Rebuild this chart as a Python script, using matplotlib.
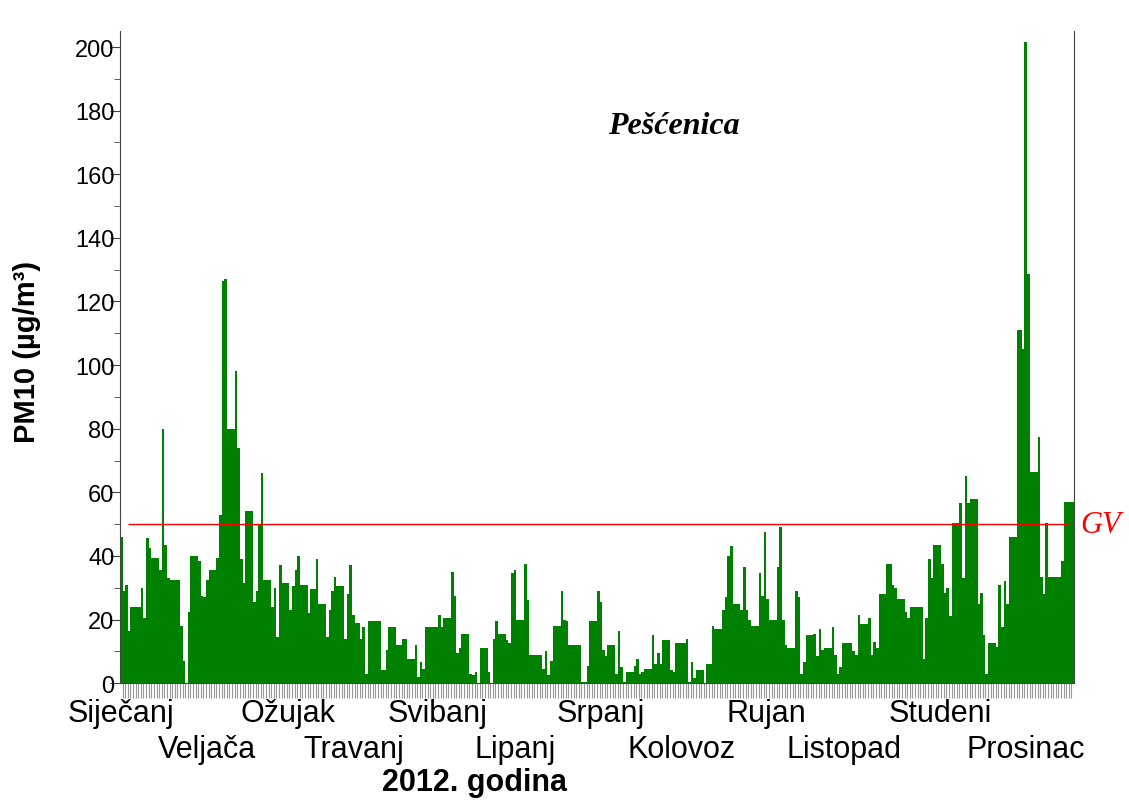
import numpy as np
import matplotlib
matplotlib.use("Agg")
import matplotlib.pyplot as plt
from matplotlib.ticker import MultipleLocator

plt.rcParams['font.family'] = ['Liberation Sans', 'DejaVu Sans']

# daily PM10 values, 2012
jan = [46, 29, 31, 16.5, 24, 24, 24, 24, 30, 20.5, 45.5, 42.5, 39.5, 39.5, 39.5, 35.5,
       80, 43.5, 33, 32.5, 32.5, 32.5, 32.5, 18, 7, 0, 22.5, 40, 40, 40, 38.5]
feb = [27.5, 27, 32.5, 35.5, 35.5, 35.5, 39.5, 53, 126.5, 127, 80, 80, 80, 98, 74, 39,
       31.5, 54, 54, 54, 25.5, 29, 50, 66, 32.5, 32.5, 32.5, 24, 30]
mar = [14.5, 37, 31.5, 31.5, 31.5, 23, 30.5, 35.5, 40, 31, 31, 31, 22, 29.5, 29.5, 39,
       25, 25, 25, 14.5, 23, 29, 33.5, 30.5, 30.5, 30.5, 14, 28, 37, 21.5, 19]
apr = [19, 14, 17.5, 3, 19.5, 19.5, 19.5, 19.5, 19.5, 4, 4, 10.5, 17.5, 17.5, 17.5, 12,
       12, 14, 14, 7.5, 7.5, 7.5, 12, 2, 6.5, 4.5, 17.5, 17.5, 17.5, 17.5]
may = [17.5, 21.5, 17.5, 20.5, 20.5, 20.5, 35, 27.5, 9.5, 11, 15.5, 15.5, 15.5, 3, 2.5,
       3.5, 0, 11, 11, 11, 3.5, 0, 14, 19.5, 15.5, 15.5, 15.5, 13.5, 12.5, 34.5, 35.5]
jun = [20, 20, 20, 37.5, 26, 9, 9, 9, 9, 9, 4.5, 10, 2.5, 7, 18, 18, 18, 29, 20, 19.5,
       12, 12, 12, 12, 12, 0.5, 0.5, 5.5, 19.5, 19.5]
jul = [19.5, 29, 25.5, 10.5, 8.5, 12, 12, 12, 3, 16.5, 5, 0.5, 3.5, 3.5, 3.5, 5.5, 7.5,
       3, 3.5, 4.5, 4.5, 4.5, 15, 6, 9.5, 6, 13.5, 13.5, 13.5, 4, 3.5]
aug = [12.5, 12.5, 12.5, 12.5, 14, 0.5, 6.5, 1.5, 4, 4, 4, 0, 6, 6, 18, 17, 17, 17, 23,
       27, 40, 43, 25, 25, 25, 23, 36.5, 23, 20, 18, 18]
sep = [18, 34.5, 27.5, 47.5, 26.5, 20, 20, 20, 36.5, 49, 20, 12, 11, 11, 11, 29, 27, 3,
       6.5, 15, 15, 15, 15.5, 8.5, 17, 10.5, 11, 11, 11, 17.5]
oct_ = [9, 3, 5, 12.5, 12.5, 12.5, 12.5, 10, 9, 21.5, 18.5, 18.5, 18.5, 20.5, 9, 13, 11,
        28, 28, 28, 37.5, 37.5, 31, 30, 26.5, 26.5, 26.5, 22.5, 20.5, 24, 24]
nov = [24, 24, 24, 7.5, 20.5, 39, 33, 43.5, 43.5, 43.5, 37.5, 28.5, 30, 21, 50.5, 50.5,
       50.5, 56.5, 33, 65, 56.5, 58, 58, 58, 25, 28.5, 15, 3, 12.5, 12.5]
dec = [12.5, 11.5, 31, 17.5, 32, 25, 46, 46, 46, 111, 111, 105, 201.5, 128.5, 66.5,
       66.5, 66.5, 77.5, 33.5, 28, 50.5, 33.5, 33.5, 33.5, 33.5, 33.5, 38.5, 57, 57, 57, 57]

months = ['Siječanj', 'Veljača', 'Ožujak', 'Travanj', 'Svibanj', 'Lipanj',
          'Srpanj', 'Kolovoz', 'Rujan', 'Listopad', 'Studeni', 'Prosinac']
gv = 50

pm10 = np.array(jan + feb + mar + apr + may + jun + jul + aug + sep + oct_ + nov + dec)
days = np.arange(len(pm10))

fig = plt.figure(figsize=(11.29, 8.03), dpi=100)
ax = fig.add_axes([0.1063, 0.148, 0.8450, 0.812])

ax.bar(days, pm10, width=1.0, align='edge', color='#008000', linewidth=0)
ax.hlines(gv, 3.1, 363.7, color='red', lw=1.0)
ax.text(368.5, gv, 'GV', color='red', fontsize=22, style='italic',
        family='Liberation Serif', va='center', ha='left')

ax.set_xlim(0, len(pm10))
ax.set_ylim(0, 205)

# axes look
ax.spines['top'].set_visible(False)
for s in ['left', 'right', 'bottom']:
    ax.spines[s].set_color('#444444')
ax.yaxis.set_major_locator(MultipleLocator(20))
ax.yaxis.set_minor_locator(MultipleLocator(10))
ax.tick_params(axis='y', which='major', length=7, labelsize=17, pad=-3,
               direction='out', color='#444444')
ax.tick_params(axis='y', which='minor', length=4, direction='out', color='#444444')
ax.set_xticks([])
ax.set_xticks(days[1:], minor=True)
ax.tick_params(axis='x', which='minor', length=11, width=0.8, color='#999999')

ax.set_ylabel('PM10 (µg/m³)', fontsize=21, fontweight='bold')
ax.yaxis.set_label_coords(-0.083, 0.51)

# staggered month labels
label_pos = [0.4, 33.4, 64.5, 89.8, 121.7, 151.7, 184.3, 215.4, 248.0, 277.6, 314.5, 347.5]
for i, (m, p) in enumerate(zip(months, label_pos)):
    y = -0.046 if i % 2 == 0 else -0.101
    ax.text(p, y, m, transform=ax.get_xaxis_transform(), ha='center', va='center', fontsize=22)

fig.text(475 / 1129, 1 - 783 / 803, '2012. godina', ha='center', va='center',
         fontsize=22, fontweight='bold')
fig.text(674 / 1129, 1 - 126 / 803, 'Pešćenica', ha='center', va='center',
         fontsize=23, fontweight='bold', style='italic', family='Liberation Serif')

fig.savefig('out.png', dpi=100)
